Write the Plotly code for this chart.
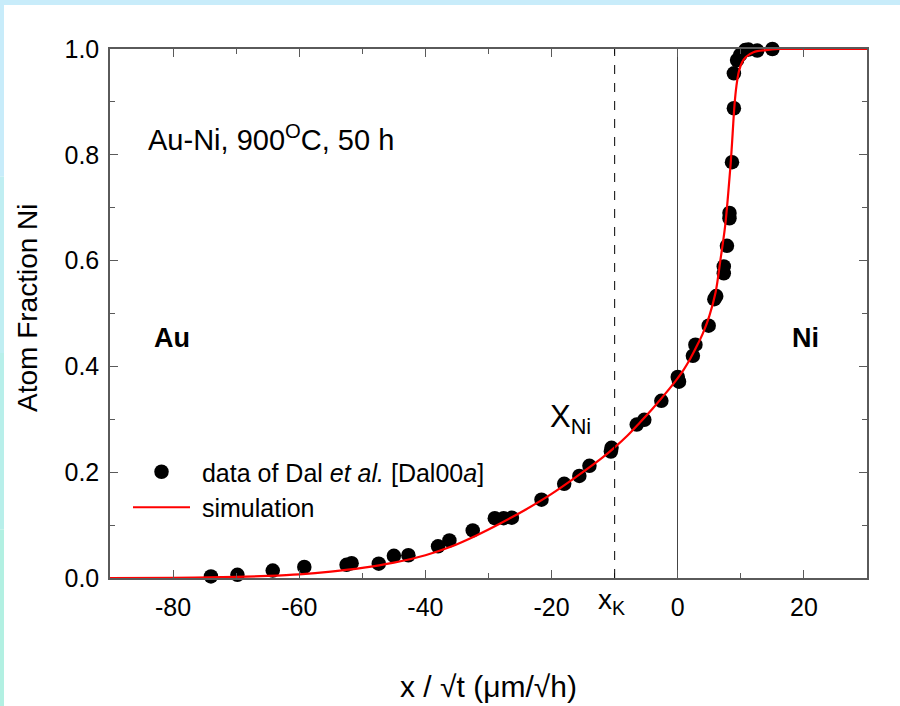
import plotly.graph_objects as go

# ---- data ----
data_x = [-74.0, -69.8, -64.2, -59.2, -52.5, -51.7, -47.4, -45.0, -42.7, -38.0, -36.2, -32.5,
          -29.0, -27.6, -26.3, -21.6, -18.0, -15.6, -14.0, -10.6, -10.5, -6.5, -5.3, -2.6,
          0.0, 0.2, 2.4, 2.8, 4.9, 5.8, 6.1, 7.3, 7.3, 7.8, 8.2, 8.2, 8.6, 8.9, 8.9, 9.4,
          9.9, 10.7, 11.2, 12.6, 15.0]
data_y = [0.003, 0.006, 0.014, 0.021, 0.025, 0.028, 0.027, 0.042, 0.043, 0.060, 0.071, 0.090,
          0.113, 0.113, 0.114, 0.148, 0.178, 0.193, 0.212, 0.239, 0.246, 0.290, 0.299, 0.335,
          0.380, 0.371, 0.420, 0.441, 0.477, 0.527, 0.533, 0.576, 0.589, 0.628, 0.680, 0.690,
          0.786, 0.888, 0.954, 0.979, 0.989, 0.998, 0.999, 0.997, 1.0]

sim_x = [-90, -80, -70, -65, -60, -55, -50, -45, -40, -36, -32, -28, -24, -20, -16, -12, -10,
         -8, -6, -4, -2, 0, 1, 2, 3, 4, 5, 6, 6.75, 7.5, 8.0, 8.4, 8.7, 9.0, 9.3, 9.7, 10.2,
         10.8, 12, 14, 16, 20, 30]
sim_y = [0.0, 0.0005, 0.002, 0.004, 0.007, 0.012, 0.019, 0.029, 0.043, 0.059, 0.080, 0.104,
         0.130, 0.159, 0.192, 0.227, 0.247, 0.269, 0.294, 0.320, 0.348, 0.378, 0.395, 0.415,
         0.438, 0.463, 0.495, 0.540, 0.600, 0.664, 0.727, 0.785, 0.840, 0.895, 0.930, 0.958,
         0.975, 0.985, 0.994, 0.998, 1.0, 1.0, 1.0]

x_ticks = [-80, -60, -40, -20, 0, 20]
x_ticktext = ["-80", "-60", "-40", "-20", "0", "20"]
y_ticks = [0.0, 0.2, 0.4, 0.6, 0.8, 1.0]
y_ticktext = ["0.0", "0.2", "0.4", "0.6", "0.8", "1.0"]
x_kirkendall = -10

FONT = "Arial, Liberation Sans, sans-serif"
AX = "#5a5a5a"
NB = "\u00a0"

fig = go.Figure()
fig.add_trace(go.Scatter(
    x=data_x, y=data_y, mode="markers",
    name=NB + "data of Dal <i>et al.</i> [Dal00<i>a</i>]",
    marker=dict(color="black", size=14.5, line=dict(width=0)), cliponaxis=False))
fig.add_trace(go.Scatter(
    x=sim_x, y=sim_y, mode="lines", name=NB + "simulation", line_shape="spline",
    line=dict(color="#ff0000", width=2.2), cliponaxis=False))

W, H = 900, 706
ml, mr, mt, mb = 110, 33, 49, 128
pw = W - ml - mr
ph = H - mt - mb

def px2paper_x(px):
    return (px - ml) / pw

def px2paper_y(py):
    return (H - mb - py) / ph

shapes = [
    dict(type="line", xref="x", yref="paper", x0=x_kirkendall, x1=x_kirkendall, y0=0, y1=1,
         line=dict(color="black", width=1, dash="dash")),
    # frame strips (background decoration)
    dict(type="rect", xref="paper", yref="paper", x0=px2paper_x(0), x1=px2paper_x(900),
         y0=px2paper_y(5), y1=px2paper_y(0), fillcolor="#c8ecfa", line=dict(width=0), layer="below"),
]
strip_cols = ["#c8ecfa", "#c0eef2", "#b8efea", "#b2f0e2"]
for i, c in enumerate(strip_cols):
    shapes.append(dict(type="rect", xref="paper", yref="paper", x0=px2paper_x(0), x1=px2paper_x(4),
                       y0=px2paper_y(706 * (i + 1) / 4), y1=px2paper_y(706 * i / 4),
                       fillcolor=c, line=dict(width=0), layer="below"))

annotations = [
    dict(text="Au-Ni, 900<sup>O</sup>C, 50 h", x=-84.3, y=0.832, xref="x", yref="y",
         xanchor="left", yanchor="middle", showarrow=False, font=dict(size=29, color="black")),
    dict(text="<b>Au</b>", x=-80.2, y=0.454, xref="x", yref="y", showarrow=False,
         font=dict(size=27, color="black")),
    dict(text="<b>Ni</b>", x=20.2, y=0.454, xref="x", yref="y", showarrow=False,
         font=dict(size=27, color="black")),
    dict(text="X<sub>Ni</sub>", x=-17.0, y=0.30, xref="x", yref="y", showarrow=False,
         font=dict(size=31, color="black")),
    dict(text="x<sub>K</sub>", x=-10.5, y=px2paper_y(621), xref="x", yref="paper", showarrow=False,
         font=dict(size=28, color="black")),
    # axis titles
    dict(text="x / √t (μm/√h)", x=px2paper_x(488), y=px2paper_y(686), xref="paper", yref="paper",
         showarrow=False, xanchor="center", yanchor="middle", font=dict(size=30, color="black")),
    dict(text="Atom Fraction Ni", x=px2paper_x(27), y=px2paper_y(308), xref="paper", yref="paper",
         showarrow=False, xanchor="center", yanchor="middle", textangle=-90,
         font=dict(size=28, color="black")),
]

fig.update_layout(
    width=W, height=H, margin=dict(l=ml, r=mr, t=mt, b=mb, pad=0, autoexpand=False),
    paper_bgcolor="white", plot_bgcolor="white",
    font=dict(family=FONT, size=25, color="black"),
    shapes=shapes, annotations=annotations,
    showlegend=True,
    legend=dict(x=px2paper_x(128), y=px2paper_y(449), xanchor="left", yanchor="top",
                bgcolor="rgba(0,0,0,0)", borderwidth=0, font=dict(size=25),
                itemwidth=57, tracegroupgap=0),
    xaxis=dict(range=[-90, 30], tickmode="array", tickvals=x_ticks, ticktext=x_ticktext,
               ticks="inside", ticklen=8, tickwidth=1.2, tickcolor=AX, automargin=False,
               showline=True, linecolor=AX, linewidth=1.5, mirror="allticks",
               showgrid=False, zeroline=True, zerolinecolor="#444444", zerolinewidth=1,
               ticklabelstandoff=6, tickfont=dict(size=25),
               minor=dict(tickmode="linear", tick0=0, dtick=10, ticks="inside", ticklen=5,
                          tickcolor=AX, tickwidth=1.2, showgrid=False)),
    yaxis=dict(range=[0, 1], tickmode="array", tickvals=y_ticks, ticktext=y_ticktext,
               ticks="inside", ticklen=8, tickwidth=1.2, tickcolor=AX, automargin=False,
               showline=True, linecolor=AX, linewidth=1.5, mirror="allticks",
               showgrid=False, zeroline=False, ticklabelstandoff=4, tickfont=dict(size=25),
               minor=dict(tickmode="linear", tick0=0, dtick=0.1, ticks="inside", ticklen=5,
                          tickcolor=AX, tickwidth=1.2, showgrid=False)),
)

fig.write_html("out.html", config={"displayModeBar": False},
               post_script="document.body.style.margin='0';document.body.style.padding='0';")
